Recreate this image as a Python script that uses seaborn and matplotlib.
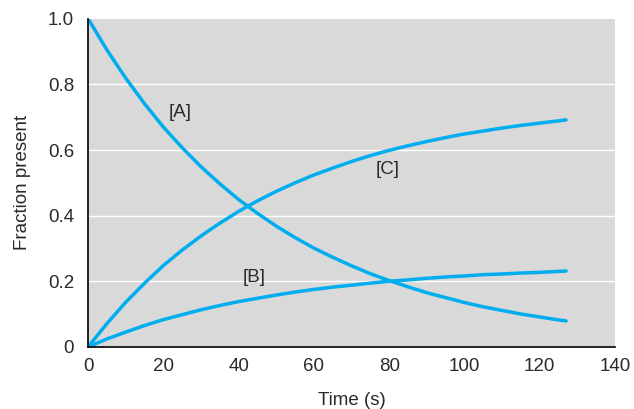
import pandas as pd
import seaborn as sns
import matplotlib.pyplot as plt

# Valori (frazione presente nel tempo)
time_s = [0, 5, 10, 15, 20, 25, 30, 35, 40, 45, 50, 55, 60, 65,
          70, 75, 80, 85, 90, 95, 100, 105, 110, 115, 120, 125, 127]
frac_a = [1.0, 0.905, 0.819, 0.741, 0.670, 0.607, 0.549, 0.497, 0.449, 0.407,
          0.368, 0.333, 0.301, 0.273, 0.247, 0.223, 0.202, 0.183, 0.165, 0.150,
          0.135, 0.122, 0.111, 0.100, 0.091, 0.082, 0.079]
frac_b = [0.0, 0.024, 0.045, 0.065, 0.083, 0.098, 0.113, 0.126, 0.138, 0.148,
          0.158, 0.167, 0.175, 0.182, 0.188, 0.194, 0.200, 0.204, 0.209, 0.213,
          0.216, 0.220, 0.222, 0.225, 0.227, 0.230, 0.231]
frac_c = [0.0, 0.071, 0.136, 0.194, 0.248, 0.295, 0.338, 0.377, 0.413, 0.445,
          0.474, 0.500, 0.524, 0.545, 0.565, 0.583, 0.599, 0.613, 0.626, 0.638,
          0.649, 0.658, 0.667, 0.675, 0.682, 0.689, 0.692]
species = ["[A]", "[B]", "[C]"]
label_pos = {"[A]": (24.5, 0.715), "[B]": (44, 0.21), "[C]": (79.5, 0.54)}
x_ticks = [0, 20, 40, 60, 80, 100, 120, 140]
y_ticks = [0, 0.2, 0.4, 0.6, 0.8, 1.0]
y_tick_labels = ["0", "0.2", "0.4", "0.6", "0.8", "1.0"]

sns.set_theme(style="white")
plt.rcParams["font.family"] = ["Liberation Sans", "DejaVu Sans"]

df = pd.DataFrame({"time": time_s, "[A]": frac_a, "[B]": frac_b, "[C]": frac_c})
long_df = df.melt(id_vars="time", value_vars=species, var_name="species", value_name="frac")

fig = plt.figure(figsize=(6.34, 4.09), dpi=100)
ax = fig.add_axes([0.139, 0.152, 0.831, 0.802])
ax.set_facecolor("#d9d9d9")

line_col = "#00aeef"
sns.lineplot(data=long_df, x="time", y="frac", units="species", estimator=None,
             color=line_col, linewidth=2.5, ax=ax, legend=False)

# Griglia orizzontale bianca
for y in y_ticks[1:-1]:
    ax.axhline(y, color="white", linewidth=1.0, zorder=0.5)

text_col = "#2a2a2a"
fs = 13.5
for name in species:
    x, y = label_pos[name]
    ax.text(x, y, name, fontsize=fs, color=text_col, ha="center", va="center")

ax.set_xlim(0, 140)
ax.set_ylim(0, 1.0)
ax.set_xticks(x_ticks)
ax.set_yticks(y_ticks)
ax.set_yticklabels(y_tick_labels)
ax.tick_params(axis="x", direction="in", length=5, width=1, color="black",
               labelsize=fs, labelcolor=text_col, pad=8)
ax.tick_params(axis="y", length=0, labelsize=fs, labelcolor=text_col, pad=10)
for t in ax.xaxis.get_major_ticks():
    if t.get_loc() in (0, 140):
        t.tick1line.set_visible(False)

for side in ["top", "right"]:
    ax.spines[side].set_visible(False)
for side in ["left", "bottom"]:
    ax.spines[side].set_color("black")
    ax.spines[side].set_linewidth(1.2)

ax.set_xlabel("Time (s)", fontsize=fs, color=text_col, labelpad=12)
ax.set_ylabel("Fraction present", fontsize=fs, color=text_col, labelpad=12)

fig.savefig("out.png", dpi=100)
